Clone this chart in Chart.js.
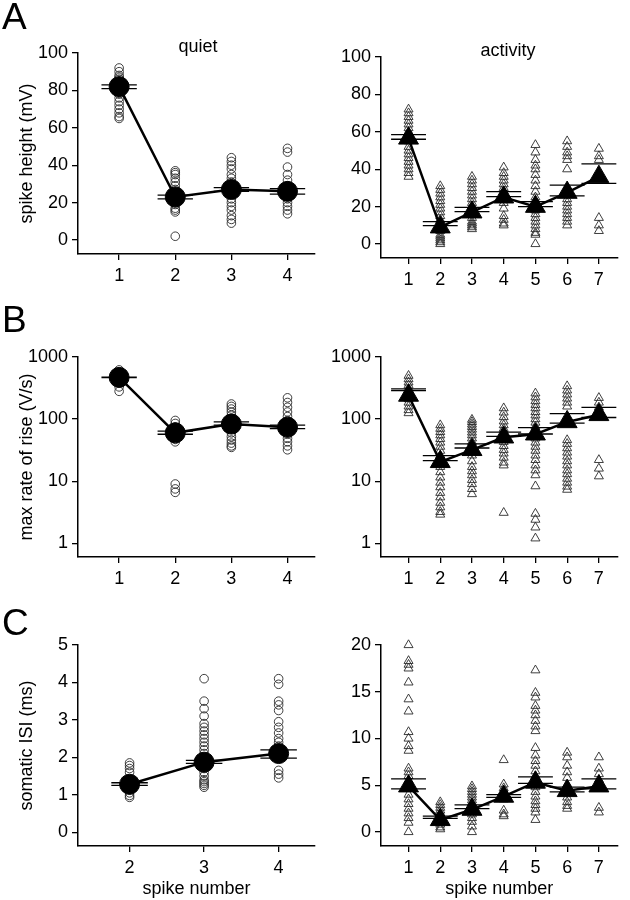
<!DOCTYPE html>
<html>
<head>
<meta charset="utf-8">
<script src="https://cdn.jsdelivr.net/npm/chart.js@4"></script>
<style>
  body { margin: 0; background: #fff; }
  #fig { position: relative; width: 630px; height: 900px; overflow: hidden; font-family: "Liberation Sans", Arial, sans-serif; color: #000; }
  canvas { position: absolute; }
  .letter { position: absolute; left: 2px; font-size: 37px; line-height: 1; }
  .head { position: absolute; width: 200px; text-align: center; font-size: 18px; line-height: 1; }
</style>
</head>
<body>
<div id="fig">
  <canvas id="aQuiet" width="326" height="270" style="left:0;top:30px"></canvas>
  <canvas id="aActivity" width="304" height="270" style="left:326px;top:30px"></canvas>
  <canvas id="bQuiet" width="326" height="270" style="left:0;top:330px"></canvas>
  <canvas id="bActivity" width="304" height="270" style="left:326px;top:330px"></canvas>
  <canvas id="cQuiet" width="326" height="285" style="left:0;top:615px"></canvas>
  <canvas id="cActivity" width="304" height="285" style="left:326px;top:615px"></canvas>
  <div class="letter" style="top:-2px">A</div>
  <div class="letter" style="top:301px">B</div>
  <div class="letter" style="top:604px">C</div>
  <div class="head" style="left:98px;top:37px">quiet</div>
  <div class="head" style="left:408px;top:41px">activity</div>
</div>
<script>
const FONT = '"Liberation Sans", Arial, sans-serif';

// spike numbers on the x axes
const quietSpikes = [1, 2, 3, 4];
const activitySpikes = [1, 2, 3, 4, 5, 6, 7];
const quietIsiSpikes = [2, 3, 4];

// tick labels
const heightTicks = [0, 20, 40, 60, 80, 100];
const rateTicks = [1, 10, 100, 1000];
const isiQuietTicks = [0, 1, 2, 3, 4, 5];
const isiActivityTicks = [0, 5, 10, 15, 20];

// A: spike height (mV)
const heightQuietMean = [82, 23, 27, 26];
const heightQuietSemHi = [83, 24, 28, 27.5];
const heightQuietSemLo = [81, 22, 26, 24.5];
const heightQuietCells = [
  [92, 90, 88, 87, 86, 85, 84, 83, 80, 78, 76, 74, 72, 70, 68, 66, 65],
  [37, 36, 35, 33, 31, 29, 27, 25, 21, 19, 17, 16, 15, 2],
  [44, 42, 40, 38, 35, 33, 31, 29, 25, 22, 20, 18, 16, 13, 11, 9],
  [49, 47, 39, 35, 32, 29, 27, 24, 22, 20, 18, 16, 14]
];
const heightActivityMean = [56.5, 9, 17, 25, 20, 27.5, 36];
const heightActivitySemHi = [58.5, 12, 19.6, 28, 22.6, 31.5, 42.8];
const heightActivitySemLo = [56, 9.8, 17.3, 25.3, 20, 25.7, 32.4];
const heightActivityCells = [
  [72, 70, 68, 66, 64, 62, 60, 58, 55, 52, 50, 48, 46, 44, 42, 40, 38, 36],
  [31, 29, 27, 25, 23, 21, 19, 17, 15, 13, 11, 9, 7, 5, 4, 3, 2, 1, 0],
  [36, 34, 32, 30, 28, 26, 24, 22, 20, 18, 16, 14, 12, 11, 10, 9, 8],
  [41, 38, 36, 34, 32, 30, 28, 26, 24, 22, 19, 15, 13, 11, 10],
  [53, 49, 45, 42, 40, 37, 34, 31, 28, 25, 22, 20, 18, 16, 14, 12, 10, 8, 6, 5, 0],
  [55, 52, 49, 47, 45, 40, 30, 24, 22, 20, 18, 16, 14, 12, 10],
  [51, 47, 45, 14, 10, 7]
];

// B: max rate of rise (V/s)
const rateQuietMean = [470, 60, 83, 74];
const rateQuietSemHi = [472, 64, 90, 80];
const rateQuietSemLo = [465, 57, 80, 70];
const rateQuietCells = [
  [620, 560, 500, 440, 380, 330, 280],
  [95, 85, 75, 66, 58, 52, 47, 43, 9, 7.5, 6.6],
  [175, 160, 145, 130, 115, 100, 70, 60, 52, 46, 41, 37, 35],
  [220, 185, 155, 130, 110, 95, 80, 66, 57, 49, 43, 37, 32]
];
const rateActivityMean = [240, 20.5, 32, 51, 57, 90, 117];
const rateActivitySemHi = [306, 25.8, 40, 61.8, 73, 122, 154];
const rateActivitySemLo = [288, 21.4, 34.2, 52.6, 57.5, 86, 106];
const rateActivityCells = [
  [500, 440, 390, 350, 310, 270, 240, 210, 185, 160, 140, 125],
  [80, 70, 62, 55, 48, 42, 36, 31, 26, 21, 17, 14, 11.5, 9.5, 8, 6.5, 5.5, 4.5, 3.8, 3.2, 2.9],
  [98, 90, 82, 75, 68, 61, 55, 49, 43, 37, 31, 26, 21, 17, 14.5, 12.5, 10.5, 9, 7.5, 6.2],
  [150, 128, 108, 92, 80, 70, 60, 50, 43, 37, 32, 28, 24, 20, 18, 3.1],
  [260, 225, 195, 170, 150, 130, 115, 100, 88, 76, 66, 57, 49, 42, 36, 31, 26, 22, 18, 15, 12.5, 8.3, 3.0, 2.4, 1.8, 1.2],
  [340, 290, 250, 215, 185, 160, 46, 40, 34, 29, 25, 21, 18, 15, 13, 11, 9.5, 8.2, 7.3],
  [220, 185, 155, 22, 16, 12]
];

// C: somatic ISI (ms)
const isiQuietMean = [1.28, 1.87, 2.1];
const isiQuietSemHi = [1.32, 1.92, 2.2];
const isiQuietSemLo = [1.25, 1.84, 1.98];
const isiQuietCells = [
  [1.85, 1.78, 1.7, 1.6, 1.2, 1.12, 1.05, 0.98, 0.93],
  [4.1, 3.5, 3.3, 3.1, 2.9, 2.8, 2.7, 2.6, 2.5, 2.4, 2.3, 2.2, 2.1, 2.0, 1.7, 1.6, 1.5, 1.4, 1.35, 1.3, 1.25, 1.2],
  [4.1, 3.95, 3.5, 3.4, 3.25, 2.95, 2.8, 2.65, 2.5, 2.4, 2.3, 1.65, 1.55, 1.45]
];
const isiActivityMean = [4.9, 1.3, 2.4, 3.8, 5.3, 4.4, 4.9];
const isiActivitySemHi = [5.67, 1.7, 2.9, 4.0, 5.9, 4.8, 5.67];
const isiActivitySemLo = [4.6, 1.46, 2.5, 3.7, 5.2, 4.3, 4.6];
const isiActivityCells = [
  [20, 18.3, 17.9, 17.5, 16, 14.2, 12.9, 10.7, 10, 9.2, 8.7, 6.8, 6.4, 6.0, 5.5, 4.0, 3.5, 3.0, 2.5, 2.0, 1.5, 1.0, 0],
  [3.2, 2.9, 2.6, 2.3, 2.0, 1.7, 1.4, 1.1, 0.8, 0.5, 0.3],
  [4.9, 4.6, 4.3, 4.0, 3.7, 3.4, 3.1, 2.7, 2.3, 1.9, 1.5, 1.1, 0.6, 0],
  [7.7, 5.1, 4.7, 4.3, 3.9, 3.5, 2.3, 1.9, 1.7],
  [17.3, 14.9, 14.4, 13.5, 13, 12.5, 11.9, 11.3, 10.8, 9.0, 8.2, 7.6, 7.1, 6.5, 6.0, 4.8, 4.3, 3.8, 3.3, 2.9, 2.5, 2.1, 1.3],
  [8.5, 8.0, 7.1, 6.4, 5.8, 5.1, 4.3, 3.7, 3.2, 2.8, 2.5],
  [8.0, 6.8, 6.2, 5.6, 2.6, 2.1]
];

function drawPanel(id, spikes, yTicks, cells, mean, semHi, semLo, o) {
  const circle = o.marker === 'circle';
  const cellPoints = [];
  spikes.forEach((s, i) => cells[i].forEach(v => cellPoints.push({ x: s, y: v })));
  const semPoints = [];
  spikes.forEach((s, i) => {
    semPoints.push({ x: s - o.bar, y: semHi[i] }, { x: s + o.bar, y: semHi[i] }, { x: s, y: null });
    semPoints.push({ x: s - o.bar, y: semLo[i] }, { x: s + o.bar, y: semLo[i] }, { x: s, y: null });
  });
  const tickFont = { family: FONT, size: 18 };

  new Chart(document.getElementById(id), {
    type: 'scatter',
    data: {
      datasets: [
        {
          data: spikes.map((s, i) => ({ x: s, y: mean[i] })),
          showLine: true, borderColor: '#000', borderWidth: 2.5,
          pointStyle: o.marker, pointRadius: circle ? 10 : 11.5,
          pointBackgroundColor: '#000', pointBorderColor: '#000', pointBorderWidth: 1,
          clip: false, order: 0
        },
        {
          data: semPoints, showLine: true, spanGaps: false,
          borderColor: '#000', borderWidth: 1.3, pointRadius: 0, clip: false, order: 1
        },
        {
          data: cellPoints, pointStyle: o.marker, pointRadius: circle ? 4.3 : 5.2,
          pointBackgroundColor: 'rgba(0,0,0,0)', pointBorderColor: '#2a2a2a', pointBorderWidth: 0.9,
          clip: false, order: 2
        }
      ]
    },
    options: {
      responsive: false,
      animation: false,
      devicePixelRatio: 1,
      layout: { padding: { top: o.padTop, left: 0, right: 0, bottom: 0 } },
      plugins: { legend: { display: false }, tooltip: { enabled: false } },
      scales: {
        x: {
          type: 'linear', min: o.xMin, max: o.xMax,
          afterBuildTicks: s => { s.ticks = spikes.map(v => ({ value: v })); },
          afterFit: s => { s.height = o.xHeight; },
          grid: { display: true, drawOnChartArea: false, drawTicks: true, tickLength: 6, color: '#000', lineWidth: 1.3 },
          border: { display: true, color: '#000', width: 1.5 },
          ticks: { color: '#000', font: tickFont, padding: 5, maxRotation: 0, autoSkip: false, callback: v => String(v) },
          title: { display: !!o.xTitle, text: o.xTitle || '', color: '#000', font: tickFont, padding: { top: 0, bottom: 0 } }
        },
        y: {
          type: o.yType, min: o.yMin, max: o.yMax,
          afterBuildTicks: s => { s.ticks = yTicks.map(v => ({ value: v })); },
          afterFit: s => { s.width = o.yWidth; },
          grid: { display: true, drawOnChartArea: false, drawTicks: true, tickLength: 6, color: '#000', lineWidth: 1.3 },
          border: { display: true, color: '#000', width: 1.5 },
          ticks: { color: '#000', font: tickFont, padding: 4, autoSkip: false, callback: v => String(v) },
          title: { display: !!o.yTitle, text: o.yTitle || '', color: '#000', font: tickFont, padding: { top: 16, bottom: 0 } }
        }
      }
    }
  });
}

const leftX = { xMin: 0.267, xMax: 4.49, bar: 0.315, yWidth: 78, marker: 'circle' };
const rightX = { xMin: 0.132, xMax: 7.587, bar: 0.55, yWidth: 55, marker: 'triangle' };

drawPanel('aQuiet', quietSpikes, heightTicks, heightQuietCells, heightQuietMean, heightQuietSemHi, heightQuietSemLo,
  Object.assign({}, leftX, { yType: 'linear', yMin: -7.5, yMax: 100, padTop: 23, xHeight: 46, yTitle: 'spike height (mV)' }));
drawPanel('aActivity', activitySpikes, heightTicks, heightActivityCells, heightActivityMean, heightActivitySemHi, heightActivitySemLo,
  Object.assign({}, rightX, { yType: 'linear', yMin: -7.5, yMax: 100, padTop: 27, xHeight: 42 }));
drawPanel('bQuiet', quietSpikes, rateTicks, rateQuietCells, rateQuietMean, rateQuietSemHi, rateQuietSemLo,
  Object.assign({}, leftX, { yType: 'logarithmic', yMin: 0.62, yMax: 1000, padTop: 27, xHeight: 43, yTitle: 'max rate of rise (V/s)' }));
drawPanel('bActivity', activitySpikes, rateTicks, rateActivityCells, rateActivityMean, rateActivitySemHi, rateActivitySemLo,
  Object.assign({}, rightX, { yType: 'logarithmic', yMin: 0.62, yMax: 1000, padTop: 27, xHeight: 43 }));
drawPanel('cQuiet', quietIsiSpikes, isiQuietTicks, isiQuietCells, isiQuietMean, isiQuietSemHi, isiQuietSemLo,
  Object.assign({}, leftX, { xMin: 1.308, xMax: 4.488, bar: 0.245, yType: 'linear', yMin: -0.37, yMax: 5, padTop: 30, xHeight: 54, yTitle: 'somatic ISI (ms)', xTitle: 'spike number' }));
drawPanel('cActivity', activitySpikes, isiActivityTicks, isiActivityCells, isiActivityMean, isiActivitySemHi, isiActivitySemLo,
  Object.assign({}, rightX, { yType: 'linear', yMin: -1.5, yMax: 20, padTop: 30, xHeight: 54, xTitle: 'spike number' }));
</script>
</body>
</html>
